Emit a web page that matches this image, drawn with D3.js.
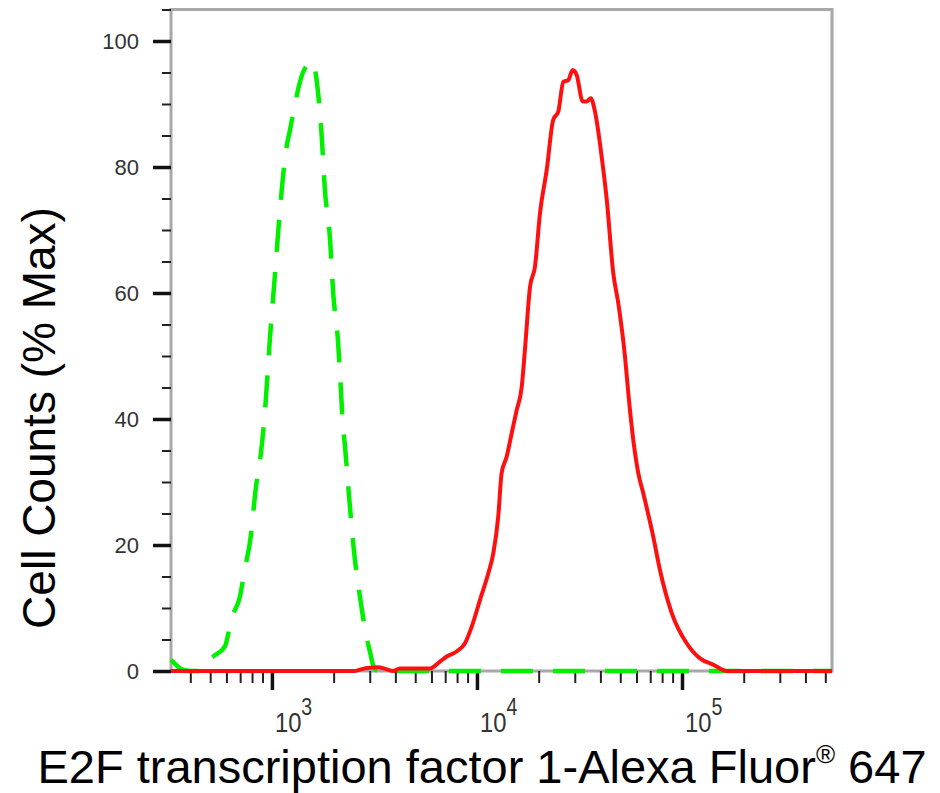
<!DOCTYPE html>
<html>
<head>
<meta charset="utf-8">
<script src="https://cdn.jsdelivr.net/npm/d3@7"></script>
<style>
  body { margin: 0; background: #fff; }
  svg { display: block; font-family: "Liberation Sans", Arial, sans-serif; }
</style>
</head>
<body>
<div class="chart-container"></div>
<script>
var width = 940;
var height = 793;

// plot area in pixels
var plotLeft = 171, plotRight = 832, plotTop = 9.5, plotBottom = 671;

// Sample (red, solid): fluorescence intensity vs % max
var redIntensity = [322, 2540, 2750, 3010, 3290, 3600, 3890, 4210, 5900, 6600, 7120, 7960, 8740, 9420,
  10350, 11360, 12020, 12700, 13190, 13960, 14760, 15620, 16520, 17140, 18150, 19190, 20290, 21880,
  23550, 24930, 26370, 27880, 29300, 30640, 32800, 34290, 35890, 37640, 40590, 42960, 46240, 48880,
  52720, 54720, 57850, 61210, 64740, 72430, 78130, 89130, 105400, 122400, 142200, 165200, 539000];
var redCounts = [0, 0, 0.3, 0.5, 0.6, 0.3, 0, 0.4, 0.4, 1.5, 2.3, 3.1, 4.4, 7.0,
  11.3, 15.5, 18.7, 24.5, 31.4, 34.0, 37.7, 41.4, 45, 51, 61, 64.2, 72.6, 79.5,
  87.5, 88.8, 93.5, 93.8, 95.4, 94.6, 90.4, 90.4, 90.9, 88.8, 81.6, 74.8, 63.1, 58.4,
  49.9, 44.1, 36.7, 31.4, 28.2, 21.3, 16.0, 9.2, 4.4, 2.0, 1.0, 0, 0];

// Isotype control (green, dashed)
var greenIntensity = [322, 368, 398, 445, 480, 527, 590, 636, 698, 738, 781, 842, 874, 924, 978,
  1034, 1094, 1179, 1224, 1295, 1416, 1530, 1585, 1650, 1750, 1810, 1920, 1990, 2100, 2150,
  2220, 2270, 2380, 2510, 2710, 2840, 3010, 3150, 3290, 539000];
var greenCounts = [1.8, 0.2, 0, 0, 1.6, 2.5, 3.9, 8.4, 11.8, 16.2, 20.4, 30, 33.3, 41, 52.8,
  62.8, 73.1, 83.2, 85.8, 90, 95, 96.5, 96.8, 93.9, 84.8, 76.7, 68.6, 60, 52.4, 47,
  39, 35.8, 27.6, 19.2, 11, 6.8, 3.0, 0.5, 0, 0];

var yTicks = [0, 20, 40, 60, 80, 100];
var yMinorTicks = [5, 10, 15, 25, 30, 35, 45, 50, 55, 65, 70, 75, 85, 90, 95, 105];
var xDecades = [1e3, 1e4, 1e5];
var xDomain = [322, 539000];
var yDomain = [0, 105];

var xLabel = 'E2F transcription factor 1-Alexa Fluor';
var yLabel = 'Cell Counts (% Max)';

var svg = d3.select('.chart-container')
  .append('svg')
  .attr('width', width)
  .attr('height', height);

var xScale = d3.scaleLog().domain(xDomain).range([plotLeft, plotRight]);
var yScale = d3.scaleLinear().domain(yDomain).range([plotBottom, plotTop]);

// Frame
svg.append('rect')
  .attr('x', plotLeft)
  .attr('y', plotTop)
  .attr('width', plotRight - plotLeft)
  .attr('height', plotBottom - plotTop)
  .attr('fill', 'none')
  .attr('stroke', '#a8a8a8')
  .attr('stroke-width', 3);

// Y axis: minor then major ticks
svg.append('g')
  .attr('transform', 'translate(' + plotLeft + ',0)')
  .call(d3.axisLeft(yScale).tickValues(yMinorTicks).tickSize(9).tickFormat(''))
  .call(g => g.select('.domain').remove())
  .call(g => g.selectAll('line').attr('stroke', '#222').attr('stroke-width', 2));

var yAxis = svg.append('g')
  .attr('transform', 'translate(' + plotLeft + ',0)')
  .call(d3.axisLeft(yScale).tickValues(yTicks).tickSize(18).tickPadding(14).tickFormat(d3.format('d')));
yAxis.select('.domain').remove();
yAxis.selectAll('line').attr('stroke', '#111').attr('stroke-width', 3.5);
yAxis.selectAll('text')
  .attr('font-size', 22)
  .attr('font-family', '"Liberation Sans", Arial, sans-serif')
  .attr('fill', '#333')
  .attr('dy', '0.36em');

// X axis: minor ticks from the log scale, major ticks at decades
var xMinor = xScale.ticks().filter(function (d) {
  return xDecades.indexOf(d) < 0;
});
svg.append('g')
  .attr('transform', 'translate(0,' + plotBottom + ')')
  .call(d3.axisBottom(xScale).tickValues(xMinor).tickSize(12).tickFormat(''))
  .call(g => g.select('.domain').remove())
  .call(g => g.selectAll('line').attr('stroke', '#222').attr('stroke-width', 2));

svg.append('g')
  .attr('transform', 'translate(0,' + plotBottom + ')')
  .call(d3.axisBottom(xScale).tickValues(xDecades).tickSize(19).tickFormat(''))
  .call(g => g.select('.domain').remove())
  .call(g => g.selectAll('line').attr('stroke', '#111').attr('stroke-width', 3.5));

// Decade labels as 10 with superscript
var decadeLabels = svg.append('g')
  .selectAll('text')
  .data(xDecades)
  .enter()
  .append('text')
  .attr('transform', function (d) {
    return 'translate(' + (xScale(d) + 3) + ',732) scale(0.85,1)';
  })
  .attr('fill', '#333')
  .attr('font-size', 28);
decadeLabels.append('tspan').text('10');
decadeLabels.append('tspan')
  .attr('font-size', 23)
  .attr('dy', -17)
  .text(function (d) { return Math.round(Math.log10(d)); });

// Curves
var line = d3.line()
  .x(function (d) { return xScale(d[0]); })
  .y(function (d) { return yScale(d[1]); })
  .curve(d3.curveMonotoneX);

var greenData = greenIntensity.map(function (v, i) { return [v, greenCounts[i]]; });
var redData = redIntensity.map(function (v, i) { return [v, redCounts[i]]; });

svg.append('path')
  .datum(greenData)
  .attr('d', line)
  .attr('fill', 'none')
  .attr('stroke', '#00f000')
  .attr('stroke-width', 4.5)
  .attr('stroke-dasharray', '32,20');

svg.append('path')
  .datum(redData)
  .attr('d', line)
  .attr('fill', 'none')
  .attr('stroke', '#ff1010')
  .attr('stroke-width', 4)
  .attr('stroke-linejoin', 'round');

// Axis titles
var xTitle = svg.append('text')
  .attr('x', 482)
  .attr('y', 783)
  .attr('text-anchor', 'middle')
  .attr('font-size', 47)
  .attr('fill', '#000');
xTitle.append('tspan').text(xLabel);
xTitle.append('tspan').attr('font-size', 26).attr('dy', -20).text('\u00AE');
xTitle.append('tspan').attr('dy', 20).text(' 647');

svg.append('text')
  .attr('transform', 'translate(55,418) rotate(-90)')
  .attr('text-anchor', 'middle')
  .attr('font-size', 46)
  .attr('fill', '#000')
  .text(yLabel);
</script>
</body>
</html>
